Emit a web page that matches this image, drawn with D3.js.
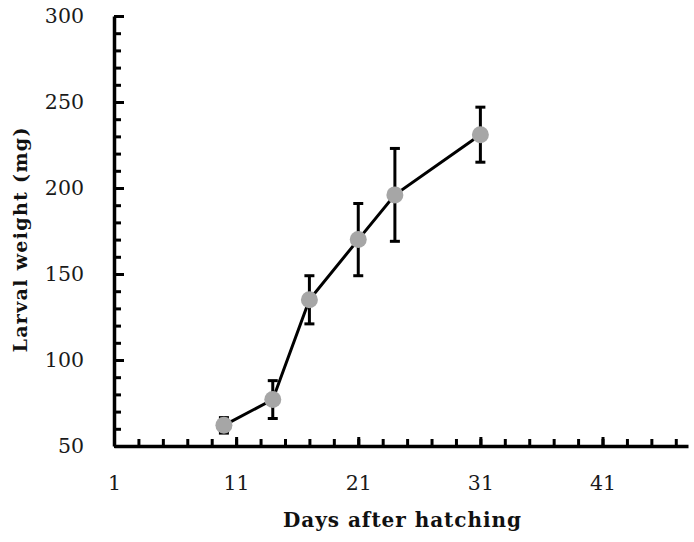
<!DOCTYPE html>
<html><head><meta charset="utf-8">
<script src="https://cdn.jsdelivr.net/npm/d3@7/dist/d3.min.js"></script>
<style>body{margin:0;background:#fff}</style>
</head><body>
<script>
const days = [10, 14, 17, 21, 24, 31];
const weight = [62, 77, 135, 170, 196, 231];
const errorBar = [4.5, 11, 14, 21, 27, 16];
const xMajorTicks = [1, 11, 21, 31, 41];
const yMajorTicks = [50, 100, 150, 200, 250, 300];

const W = 694, H = 542;
const svg = d3.select("body").append("svg").attr("width", W).attr("height", H);
const x = d3.scaleLinear().domain([1, 48]).range([114, 688]);
const y = d3.scaleLinear().domain([50, 300]).range([446, 16]);
const font = "'DejaVu Serif', serif";

const data = days.map((d, i) => ({d, v: weight[i], e: errorBar[i]}));

// y axis minor
const yMinor = d3.range(50, 301, 10);
svg.append("g").attr("transform", `translate(${x(1)},0)`)
  .call(d3.axisLeft(y).tickValues(yMinor).tickSizeInner(-7).tickSizeOuter(0).tickFormat(""))
  .call(g => g.selectAll("line").attr("stroke", "#000").attr("stroke-width", 3))
  .call(g => g.select(".domain").remove());
svg.append("g").attr("transform", `translate(${x(1)},0)`)
  .call(d3.axisLeft(y).tickValues(yMajorTicks).tickSizeInner(-10).tickSizeOuter(0).tickPadding(30))
  .call(g => g.selectAll("line").attr("stroke", "#000").attr("stroke-width", 3))
  .call(g => g.select(".domain").attr("stroke", "#000").attr("stroke-width", 3.5))
  .call(g => g.selectAll("text").attr("font-family", font).attr("font-size", 20.5).attr("fill", "#1a1a1a"));

// x axis
const xMinor = d3.range(1, 48, 2);
svg.append("g").attr("transform", `translate(0,${y(50)})`)
  .call(d3.axisBottom(x).tickValues(xMinor).tickSizeInner(-7).tickSizeOuter(0).tickFormat(""))
  .call(g => g.selectAll("line").attr("stroke", "#000").attr("stroke-width", 3))
  .call(g => g.select(".domain").remove());
svg.append("g").attr("transform", `translate(0,${y(50)})`)
  .call(d3.axisBottom(x).tickValues(xMajorTicks).tickSizeInner(-9).tickSizeOuter(0).tickPadding(29))
  .call(g => g.selectAll("line").attr("stroke", "#000").attr("stroke-width", 3))
  .call(g => g.select(".domain").attr("stroke", "#000").attr("stroke-width", 3.5))
  .call(g => g.selectAll("text").attr("font-family", font).attr("font-size", 20.5).attr("fill", "#1a1a1a"));

// line
svg.append("path").datum(data)
  .attr("d", d3.line().x(p => x(p.d)).y(p => y(p.v)))
  .attr("fill", "none").attr("stroke", "#000").attr("stroke-width", 3);

// error bars
const eb = svg.append("g").attr("stroke", "#000").attr("stroke-width", 3);
data.forEach(p => {
  eb.append("line").attr("x1", x(p.d)).attr("x2", x(p.d)).attr("y1", y(p.v - p.e)).attr("y2", y(p.v + p.e));
  [p.v - p.e, p.v + p.e].forEach(v => eb.append("line")
    .attr("x1", x(p.d) - 5).attr("x2", x(p.d) + 5).attr("y1", y(v)).attr("y2", y(v)));
});

// points
svg.append("g").selectAll("circle").data(data).join("circle")
  .attr("cx", p => x(p.d)).attr("cy", p => y(p.v)).attr("r", 8.5).attr("fill", "#a6a6a6");

// axis titles
svg.append("text").attr("x", 402).attr("y", 527).attr("text-anchor", "middle")
  .attr("font-family", font).attr("font-weight", "bold").attr("font-size", 20).attr("fill", "#111")
  .attr("textLength", 238).attr("lengthAdjust", "spacing")
  .text("Days after hatching");
svg.append("text").attr("transform", "translate(27,240) rotate(-90)").attr("text-anchor", "middle")
  .attr("font-family", font).attr("font-weight", "bold").attr("font-size", 19).attr("fill", "#111")
  .attr("textLength", 225).attr("lengthAdjust", "spacing")
  .text("Larval weight (mg)");
</script>
</body></html>
